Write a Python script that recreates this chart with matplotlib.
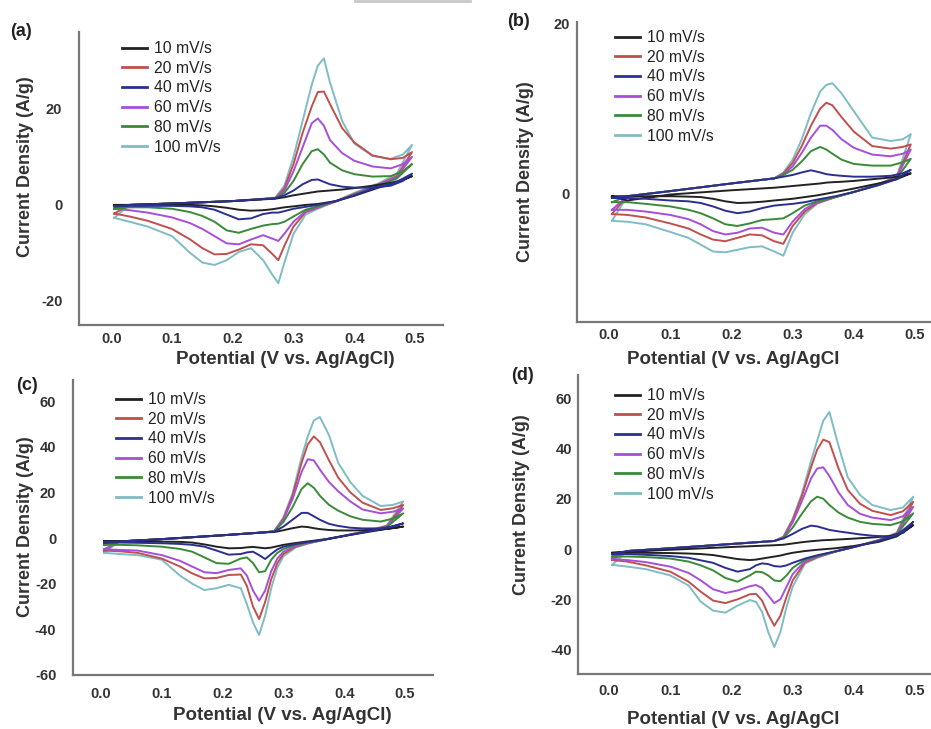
import matplotlib
matplotlib.use("Agg")
import matplotlib.pyplot as plt
from matplotlib.lines import Line2D

plt.rcParams["font.family"] = ["Liberation Sans", "DejaVu Sans"]
plt.rcParams["axes.unicode_minus"] = False

W, H = 931, 729

rates = ["10 mV/s", "20 mV/s", "40 mV/s", "60 mV/s", "80 mV/s", "100 mV/s"]
colors = ["#222222", "#c0504d", "#2b2f8f", "#a64fd8", "#3a8a3a", "#7fbcc4"]
zorders = [5, 3, 6, 3.5, 4, 2]

# ---- panel (a): forward (anodic) and reverse (cathodic) branches
a_fwd_E = [0.005, 0.03, 0.10, 0.20, 0.27, 0.285, 0.30, 0.315, 0.33, 0.34, 0.35, 0.36, 0.38, 0.40, 0.43, 0.46, 0.48, 0.495]
a_fwd = [
    [0.0, 0.0, 0.3, 0.8, 1.3, 1.6, 2.0, 2.3, 2.6, 2.8, 2.9, 3.0, 3.2, 3.5, 4.0, 4.6, 5.2, 6.0],
    [-1.8, 0.0, 0.3, 0.8, 1.4, 3.5, 8.5, 15.0, 20.5, 23.5, 23.6, 21.0, 16.0, 13.0, 10.3, 9.5, 9.8, 11.0],
    [-0.3, 0.0, 0.3, 0.8, 1.4, 2.0, 3.0, 4.3, 5.2, 5.3, 4.8, 4.3, 3.8, 3.6, 3.6, 4.0, 5.0, 6.5],
    [-0.8, 0.0, 0.3, 0.8, 1.4, 3.0, 7.0, 12.0, 17.0, 18.0, 16.5, 13.5, 10.8, 9.2, 8.0, 7.6, 8.5, 10.0],
    [-0.8, 0.0, 0.3, 0.8, 1.4, 2.5, 5.0, 8.5, 11.2, 11.6, 10.5, 8.8, 7.2, 6.4, 5.9, 6.0, 7.0, 8.5],
    [-2.7, 0.0, 0.3, 0.8, 1.5, 4.0, 10.0, 17.5, 25.0, 29.0, 30.5, 25.5, 17.5, 12.8, 10.2, 9.6, 10.5, 12.5],
]
a_rev_E = [0.495, 0.47, 0.44, 0.40, 0.37, 0.34, 0.32, 0.30, 0.285, 0.275, 0.265, 0.25, 0.23, 0.21, 0.19, 0.17, 0.15, 0.13, 0.10, 0.06, 0.03, 0.005]
a_rev = [
    [6.0, 4.6, 3.6, 1.9, 0.8, 0.2, 0.0, -0.3, -0.5, -0.7, -0.9, -1.1, -1.2, -1.0, -0.6, -0.3, -0.1, 0.0, 0.0, 0.0, 0.0, 0.0],
    [11.0, 6.0, 4.3, 2.3, 0.8, -0.6, -1.5, -4.5, -8.5, -11.5, -10.2, -8.4, -8.2, -9.3, -10.2, -10.3, -9.0, -7.2, -5.0, -3.3, -2.4, -1.8],
    [6.5, 4.8, 3.8, 2.0, 0.8, 0.0, -0.4, -0.8, -1.3, -1.6, -1.6, -1.9, -2.8, -3.0, -2.0, -1.0, -0.5, -0.3, -0.2, -0.2, -0.2, -0.3],
    [10.0, 5.8, 4.2, 2.2, 0.7, -0.5, -1.3, -3.5, -6.0, -7.5, -7.0, -6.3, -7.2, -8.2, -8.0, -6.5, -5.0, -3.8, -2.6, -1.6, -1.1, -0.8],
    [8.5, 5.5, 4.0, 2.1, 0.8, -0.3, -1.0, -2.4, -3.5, -3.9, -4.0, -4.3, -5.0, -5.8, -5.3, -3.5, -2.3, -1.5, -0.8, -0.5, -0.5, -0.8],
    [12.5, 6.5, 4.5, 2.5, 0.8, -0.8, -2.0, -6.0, -12.0, -16.3, -14.5, -11.5, -9.0, -9.8, -11.5, -12.5, -12.0, -10.0, -6.5, -4.5, -3.5, -2.7],
]

# ---- panel (b)
b_fwd_E = [0.005, 0.03, 0.10, 0.20, 0.27, 0.285, 0.30, 0.315, 0.33, 0.345, 0.355, 0.365, 0.38, 0.40, 0.43, 0.46, 0.48, 0.493]
b_fwd = [
    [-0.3, -0.8, -0.1, 0.4, 0.7, 0.8, 0.9, 1.0, 1.1, 1.2, 1.3, 1.35, 1.4, 1.5, 1.7, 1.9, 2.1, 2.4],
    [-2.4, -0.3, 0.3, 1.2, 1.8, 2.4, 3.6, 5.6, 8.0, 10.0, 10.7, 10.4, 9.0, 7.3, 5.6, 5.3, 5.5, 5.8],
    [-0.5, -0.3, 0.3, 1.2, 1.8, 2.0, 2.2, 2.5, 2.75, 2.5, 2.3, 2.2, 2.1, 2.0, 2.0, 2.1, 2.4, 2.8],
    [-1.9, -0.3, 0.3, 1.2, 1.8, 2.3, 3.2, 4.8, 6.6, 8.0, 8.0, 7.5, 6.4, 5.4, 4.6, 4.4, 4.7, 5.2],
    [-1.0, -0.3, 0.3, 1.2, 1.8, 2.2, 2.8, 3.8, 5.0, 5.5, 5.2, 4.7, 4.0, 3.5, 3.3, 3.3, 3.7, 4.1],
    [-3.2, -0.3, 0.3, 1.2, 1.8, 2.5, 4.0, 6.4, 9.5, 12.0, 12.8, 13.0, 11.8, 9.7, 6.6, 6.2, 6.4, 7.0],
]
b_rev_E = [0.493, 0.47, 0.44, 0.40, 0.37, 0.34, 0.32, 0.30, 0.285, 0.27, 0.25, 0.23, 0.21, 0.19, 0.17, 0.15, 0.13, 0.10, 0.06, 0.03, 0.005]
b_rev = [
    [2.4, 1.7, 1.2, 0.6, 0.2, -0.2, -0.4, -0.6, -0.7, -0.8, -0.95, -1.05, -1.1, -0.9, -0.6, -0.4, -0.35, -0.3, -0.3, -0.3, -0.3],
    [5.8, 2.0, 1.1, 0.2, -0.4, -1.1, -2.1, -3.8, -5.9, -5.6, -4.9, -4.8, -5.2, -5.6, -5.4, -4.8, -4.1, -3.5, -2.8, -2.5, -2.4],
    [2.8, 1.7, 1.0, 0.2, -0.3, -0.7, -1.0, -1.2, -1.3, -1.4, -1.7, -2.1, -2.3, -2.0, -1.5, -1.1, -0.9, -0.8, -0.6, -0.5, -0.5],
    [5.2, 1.9, 1.1, 0.2, -0.4, -1.0, -1.8, -3.3, -4.8, -4.6, -4.0, -4.1, -4.6, -4.8, -4.4, -3.6, -3.0, -2.5, -2.1, -1.9, -1.9],
    [4.1, 1.8, 1.0, 0.2, -0.4, -0.9, -1.4, -2.3, -2.9, -3.0, -3.1, -3.5, -3.8, -3.6, -2.9, -2.3, -1.9, -1.5, -1.2, -1.0, -1.0],
    [7.0, 2.0, 1.1, 0.2, -0.4, -1.2, -2.4, -4.6, -7.3, -6.8, -6.2, -6.3, -6.6, -6.9, -6.8, -6.0, -5.2, -4.5, -3.6, -3.3, -3.2],
]

# ---- panel (c)
c_fwd_E = [0.005, 0.03, 0.10, 0.20, 0.27, 0.285, 0.30, 0.315, 0.33, 0.34, 0.35, 0.36, 0.375, 0.39, 0.41, 0.43, 0.46, 0.48, 0.497]
c_fwd = [
    [-1.5, -1.5, -0.5, 1.2, 2.5, 2.6, 3.4, 4.3, 5.0, 4.8, 4.3, 3.9, 3.5, 3.3, 3.3, 3.4, 3.8, 4.3, 5.0],
    [-5.5, -1.5, -0.5, 1.2, 2.5, 3.0, 8.5, 18.5, 33.0, 41.0, 44.5, 42.0, 34.0, 26.5, 20.0, 15.5, 12.3, 13.0, 14.5],
    [-2.0, -1.5, -0.5, 1.2, 2.5, 2.8, 5.0, 8.0, 11.0, 11.0, 9.5, 8.0, 6.2, 5.3, 4.5, 4.2, 4.2, 5.0, 6.4],
    [-5.0, -1.5, -0.5, 1.2, 2.5, 3.0, 8.0, 17.0, 29.0, 34.5, 34.0, 30.0, 24.5, 20.5, 16.0, 12.5, 10.8, 11.5, 13.0],
    [-3.0, -1.5, -0.5, 1.2, 2.5, 3.0, 7.0, 13.5, 21.5, 24.0, 22.0, 18.5, 14.5, 12.0, 9.5, 8.0, 7.2, 8.5, 10.8],
    [-6.5, -1.5, -0.5, 1.2, 2.5, 3.0, 9.0, 19.5, 35.5, 44.5, 51.5, 53.0, 45.0, 33.0, 24.5, 18.5, 14.0, 14.5, 16.0],
]
c_rev_E = [0.497, 0.47, 0.44, 0.40, 0.37, 0.34, 0.32, 0.30, 0.29, 0.28, 0.27, 0.26, 0.25, 0.24, 0.23, 0.21, 0.19, 0.17, 0.15, 0.13, 0.10, 0.06, 0.03, 0.005]
c_rev = [
    [5.0, 4.0, 2.7, 0.9, -0.5, -1.5, -2.2, -3.0, -3.6, -4.2, -4.5, -4.2, -3.9, -4.1, -4.4, -4.5, -3.8, -2.8, -2.0, -1.7, -1.6, -1.5, -1.5, -1.5],
    [14.5, 5.2, 3.2, 1.0, -0.6, -2.3, -3.8, -7.0, -11.0, -18.0, -28.0, -35.5, -30.0, -21.0, -16.0, -16.2, -17.5, -17.7, -15.5, -12.5, -9.0, -6.5, -5.8, -5.5],
    [6.4, 4.5, 2.9, 0.9, -0.6, -1.8, -2.6, -3.8, -5.0, -7.0, -9.2, -7.5, -6.0, -6.3, -7.0, -7.3, -5.5, -3.8, -3.0, -2.6, -2.3, -2.1, -2.0, -2.0],
    [13.0, 5.0, 3.1, 1.0, -0.6, -2.2, -3.5, -6.0, -9.0, -14.5, -23.0, -27.5, -23.0, -16.5, -13.3, -14.0, -15.4, -15.0, -12.5, -10.0, -7.5, -5.5, -5.2, -5.0],
    [10.8, 4.8, 3.0, 0.9, -0.6, -2.0, -3.0, -4.8, -6.5, -9.5, -14.5, -15.0, -11.0, -8.5, -9.0, -11.3, -11.0, -8.5, -6.0, -4.8, -3.8, -3.2, -3.0, -3.0],
    [16.0, 5.5, 3.3, 1.0, -0.6, -2.5, -4.2, -8.0, -13.0, -22.0, -34.0, -42.5, -37.0, -29.0, -22.0, -20.5, -22.0, -22.8, -20.0, -16.5, -9.5, -7.5, -7.0, -6.5],
]

# ---- panel (d)
d_fwd_E = [0.005, 0.03, 0.10, 0.20, 0.27, 0.285, 0.30, 0.315, 0.33, 0.34, 0.35, 0.36, 0.375, 0.39, 0.41, 0.43, 0.46, 0.48, 0.497]
d_fwd = [
    [-1.5, -1.0, -0.3, 0.8, 1.5, 1.7, 2.2, 2.7, 3.1, 3.3, 3.5, 3.6, 3.8, 4.0, 4.3, 4.6, 5.2, 6.5, 9.5],
    [-4.4, -0.8, 0.3, 2.0, 3.2, 4.8, 11.5, 21.0, 32.5, 39.5, 43.5, 42.5, 32.0, 23.5, 18.0, 15.2, 13.5, 15.0, 18.8],
    [-2.0, -0.8, 0.3, 2.0, 3.2, 4.2, 6.0, 8.0, 9.3, 9.0, 8.3, 7.6, 7.0, 6.5, 5.8, 5.3, 4.9, 6.5, 10.8],
    [-4.0, -0.8, 0.3, 2.0, 3.2, 4.6, 10.5, 19.0, 28.0, 32.0, 32.5, 29.0, 22.5, 17.5, 14.0, 12.5, 11.5, 13.0, 16.8],
    [-3.0, -0.8, 0.3, 2.0, 3.2, 4.4, 8.5, 14.0, 19.0, 20.8, 20.0, 17.5, 14.5, 12.5, 10.8, 10.0, 9.5, 11.0, 14.2],
    [-6.3, -0.8, 0.3, 2.0, 3.2, 5.0, 12.0, 22.0, 35.0, 43.0, 51.0, 54.5, 41.0, 28.5, 21.5, 17.5, 15.5, 16.5, 20.8],
]
d_rev_E = [0.497, 0.47, 0.44, 0.40, 0.37, 0.34, 0.32, 0.30, 0.29, 0.28, 0.27, 0.26, 0.25, 0.24, 0.23, 0.21, 0.19, 0.17, 0.15, 0.13, 0.10, 0.06, 0.03, 0.005]
d_rev = [
    [9.5, 5.0, 2.8, 1.2, 0.3, -0.3, -0.8, -1.5, -2.0, -2.6, -3.0, -3.4, -3.8, -4.2, -4.4, -4.0, -3.2, -2.4, -2.0, -1.8, -1.6, -1.5, -1.5, -1.5],
    [18.8, 6.2, 3.5, 0.8, -1.0, -3.3, -5.3, -12.5, -19.0, -26.5, -30.5, -26.0, -20.5, -17.8, -18.0, -20.0, -21.5, -20.5, -17.0, -13.0, -9.0, -6.5, -5.0, -4.4],
    [10.8, 5.5, 3.2, 0.8, -0.9, -2.5, -3.8, -5.5, -6.5, -7.0, -6.8, -6.0, -5.7, -6.5, -8.0, -9.0, -7.5, -5.5, -4.5, -3.5, -2.8, -2.3, -2.0, -2.0],
    [16.8, 6.0, 3.4, 0.8, -1.0, -3.0, -4.8, -10.0, -15.0, -20.0, -21.5, -18.5, -15.5, -14.3, -14.8, -16.5, -17.5, -16.0, -12.5, -9.5, -7.0, -5.2, -4.4, -4.0],
    [14.2, 5.8, 3.3, 0.8, -1.0, -2.8, -4.2, -7.5, -10.5, -12.8, -12.5, -10.5, -9.2, -9.0, -10.5, -13.0, -11.5, -8.5, -6.5, -5.0, -3.8, -3.2, -3.0, -3.0],
    [20.8, 6.5, 3.6, 0.8, -1.0, -3.5, -5.8, -15.0, -23.0, -33.0, -39.0, -33.0, -25.0, -21.0, -20.3, -22.5, -25.3, -24.5, -21.0, -14.5, -10.5, -8.0, -7.0, -6.3],
]

x_ticks = [0.0, 0.1, 0.2, 0.3, 0.4, 0.5]
x_ticklabels = ["0.0", "0.1", "0.2", "0.3", "0.4", "0.5"]

fig = plt.figure(figsize=(W / 100, H / 100), dpi=100)


def px_axes(left, top, right, bottom):
    return fig.add_axes([left / W, 1 - bottom / H, (right - left) / W, (bottom - top) / H])


def fig_text(x, y, s, **kw):
    fig.text(x / W, 1 - y / H, s, **kw)


panels = [
    dict(rect=(79, 32, 443, 325), xlim=(-0.053, 0.546), ylim=(-25, 36), yticks=[-20, 0, 20],
         fwd_E=a_fwd_E, fwd=a_fwd, rev_E=a_rev_E, rev=a_rev, ypad=12, xpad=5,
         tag="(a)", tag_xy=(21, 32), xlab="Potential (V vs. Ag/AgCl)", xlab_xy=(285, 359),
         ylab_xy=(26, 167), leg_xy=(122, 41)),
    dict(rect=(577, 22, 931, 322), xlim=(-0.052, 0.526), ylim=(-15.1, 20.2), yticks=[0, 20],
         fwd_E=b_fwd_E, fwd=b_fwd, rev_E=b_rev_E, rev=b_rev, ypad=5, xpad=4,
         tag="(b)", tag_xy=(518, 21), xlab="Potential (V vs. Ag/AgCl", xlab_xy=(733, 359),
         ylab_xy=(525, 172), leg_xy=(615, 30)),
    dict(rect=(73, 380, 433, 675), xlim=(-0.046, 0.546), ylim=(-60, 69.2), yticks=[-60, -40, -20, 0, 20, 40, 60],
         fwd_E=c_fwd_E, fwd=c_fwd, rev_E=c_rev_E, rev=c_rev, ypad=12, xpad=9,
         tag="(c)", tag_xy=(27, 386), xlab="Potential (V vs. Ag/AgCl)", xlab_xy=(282, 716),
         ylab_xy=(26, 527), leg_xy=(116, 392)),
    dict(rect=(578, 375, 931, 674), xlim=(-0.0507, 0.526), ylim=(-49.7, 69.2), yticks=[-40, -20, 0, 20, 40, 60],
         fwd_E=d_fwd_E, fwd=d_fwd, rev_E=d_rev_E, rev=d_rev, ypad=4.5, xpad=7.5,
         tag="(d)", tag_xy=(522, 376), xlab="Potential (V vs. Ag/AgCl", xlab_xy=(733, 720),
         ylab_xy=(522, 505), leg_xy=(615, 388)),
]

for p in panels:
    ax = px_axes(*p["rect"])
    for i in range(len(rates)):
        E = p["fwd_E"] + p["rev_E"]
        j = p["fwd"][i] + p["rev"][i]
        ax.plot(E, j, color=colors[i], lw=1.4, zorder=zorders[i])
    ax.set_xlim(*p["xlim"])
    ax.set_ylim(*p["ylim"])
    ax.set_xticks(x_ticks)
    ax.set_xticklabels(x_ticklabels)
    ax.set_yticks(p["yticks"])
    ax.set_yticklabels([str(t) for t in p["yticks"]])
    for side in ["top", "right"]:
        ax.spines[side].set_visible(False)
    for side in ["left", "bottom"]:
        ax.spines[side].set_color("#777777")
        ax.spines[side].set_linewidth(1.6)
    ax.tick_params(axis="both", length=0, labelsize=10.5, labelcolor="#333333")
    ax.tick_params(axis="y", pad=p["ypad"])
    ax.tick_params(axis="x", pad=p["xpad"])
    for lab in ax.get_xticklabels() + ax.get_yticklabels():
        lab.set_fontweight("bold")
    ax.set_facecolor("none")

    handles = [Line2D([0], [0], color=c, lw=2.0) for c in colors]
    lx, ly = p["leg_xy"]
    fig.legend(handles, rates, loc="upper left", bbox_to_anchor=(lx / W, 1 - ly / H),
               frameon=False, fontsize=11.3, handlelength=1.6, handletextpad=0.45,
               labelspacing=0.3, borderpad=0, borderaxespad=0, labelcolor="#222222")

    fig_text(*p["tag_xy"], p["tag"], fontsize=13, fontweight="bold", ha="center", va="center", color="#222222")
    fig_text(*p["xlab_xy"], p["xlab"], fontsize=13.5, fontweight="bold", ha="center", va="center", color="#333333")
    fig_text(*p["ylab_xy"], "Current Density (A/g)", fontsize=13, fontweight="bold", ha="center",
             va="center", rotation=90, color="#333333")

# thin grey strip at the very top, cropped from the source figure
fig.add_artist(Line2D([355 / W, 470 / W], [1 - 1 / H, 1 - 1 / H], color="#c8c8c8", lw=2))

fig.savefig("out.png", dpi=100)
